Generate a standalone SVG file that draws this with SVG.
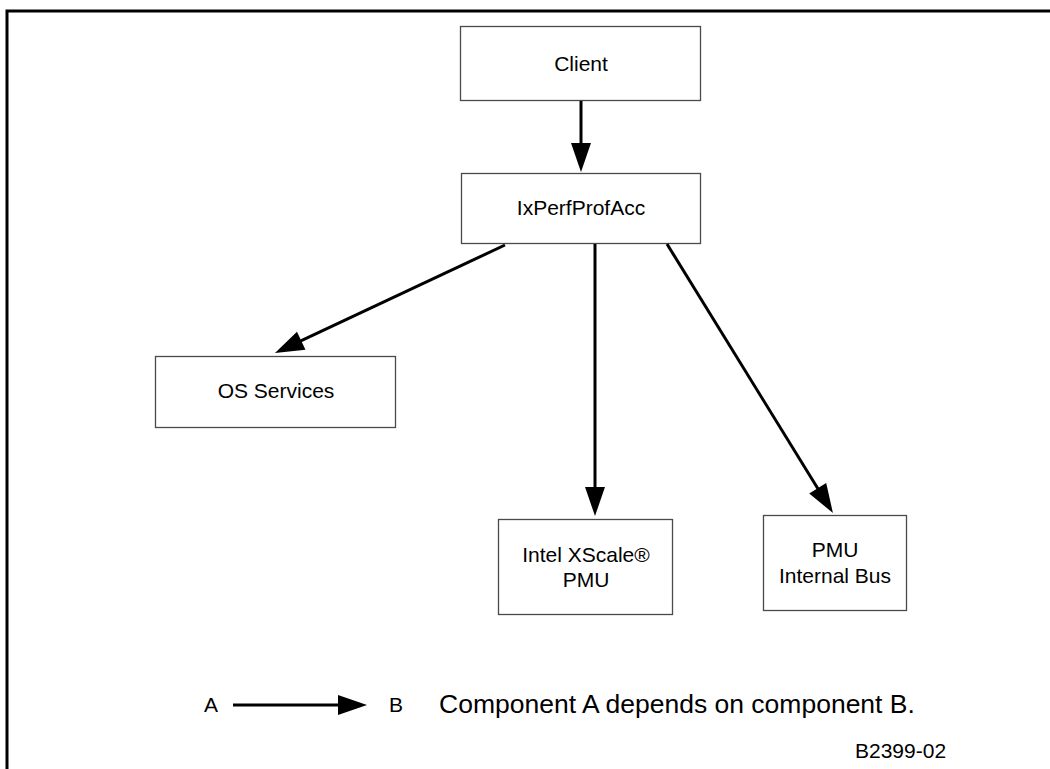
<svg xmlns="http://www.w3.org/2000/svg" width="1050" height="769" viewBox="0 0 1050 769">
  <defs>
    <!-- solid dependency arrowhead; tip sits 25px past the line end -->
    <marker id="head" markerUnits="userSpaceOnUse" markerWidth="30" markerHeight="20" refX="4" refY="10" orient="auto" overflow="visible">
      <path d="M0,0 L29,10 L0,20 Z" fill="#000"/>
    </marker>
    <style>
      .box { fill: #fff; stroke: #4a4a4a; stroke-width: 1.3; }
      .lbl { font-family: "Liberation Sans", Arial, sans-serif; font-size: 21px; fill: #000; text-anchor: middle; }
      .dep { fill: none; stroke: #000; stroke-width: 3; marker-end: url(#head); }
      .frame { fill: none; stroke: #000; stroke-width: 3; }
    </style>
  </defs>
  <rect width="1050" height="769" fill="#fff"/>

  <!-- page frame -->
  <path class="frame" d="M7,769 V11 H1050"/>

  <g id="client">
    <rect class="box" x="460.5" y="26.5" width="240" height="74"/>
    <text class="lbl" x="581" y="71">Client</text>
  </g>

  <g id="ixperfprofacc">
    <rect class="box" x="461.5" y="173.5" width="239" height="70"/>
    <text class="lbl" x="581" y="215">IxPerfProfAcc</text>
  </g>

  <g id="os-services">
    <rect class="box" x="155.5" y="356.5" width="240" height="71"/>
    <text class="lbl" x="276" y="398">OS Services</text>
  </g>

  <g id="xscale-pmu">
    <rect class="box" x="498.5" y="519.5" width="174" height="95"/>
    <text class="lbl" x="586" y="562">Intel XScale®</text>
    <text class="lbl" x="586" y="587">PMU</text>
  </g>

  <g id="pmu-internal-bus">
    <rect class="box" x="763.5" y="515.5" width="143" height="95"/>
    <text class="lbl" x="835" y="557">PMU</text>
    <text class="lbl" x="835" y="583">Internal Bus</text>
  </g>

  <g id="connectors">
    <path class="dep" d="M581,101 L581,147"/>
    <path class="dep" d="M505,245 L297.6,342.4"/>
    <path class="dep" d="M595,244 L595,491"/>
    <path class="dep" d="M667,244 L819.8,491.7"/>
  </g>

  <g id="legend">
    <text class="lbl" x="211" y="712">A</text>
    <path class="dep" d="M233,705 L342,705"/>
    <text class="lbl" x="396" y="712">B</text>
    <text x="439" y="713" font-family="Liberation Sans, Arial, sans-serif" font-size="26.5" fill="#000">Component A depends on component B.</text>
  </g>

  <text x="855" y="758" font-family="Liberation Sans, Arial, sans-serif" font-size="21" fill="#000">B2399-02</text>
</svg>
